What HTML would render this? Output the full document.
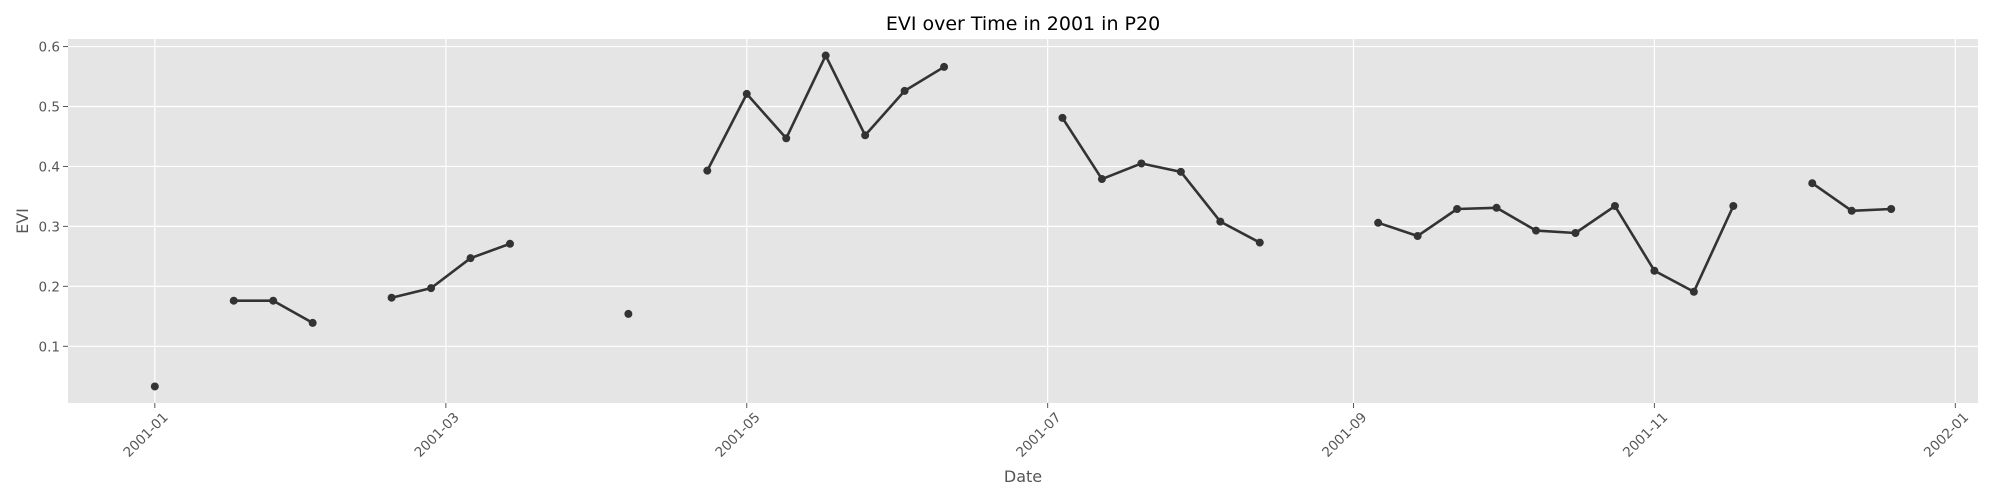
<!DOCTYPE html>
<html><head><meta charset="utf-8">
<style>
html,body{margin:0;padding:0;background:#fff;}
svg{display:block;font-family:"DejaVu Sans","Liberation Sans",sans-serif;}
</style></head>
<body>
<svg id="chart" width="2000" height="500" viewBox="0 0 2000 500">
<text x="1023" y="30" text-anchor="middle" font-size="19" fill="#000">EVI over Time in 2001 in P20</text>
<rect x="68" y="39" width="1910" height="364" fill="#e5e5e5"/>
<g id="grid"></g>
<g id="axes"></g>
<g id="series"></g>
<text x="1023" y="482" text-anchor="middle" font-size="16" fill="#555">Date</text>
<text x="0" y="0" transform="translate(28,221) rotate(-90)" text-anchor="middle" font-size="16" fill="#555">EVI</text>
</svg>
<script>
const dates = ["2001-01-01","2001-01-09","2001-01-17","2001-01-25","2001-02-02","2001-02-10","2001-02-18","2001-02-26","2001-03-06","2001-03-14","2001-03-22","2001-03-30","2001-04-07","2001-04-15","2001-04-23","2001-05-01","2001-05-09","2001-05-17","2001-05-25","2001-06-02","2001-06-10","2001-06-18","2001-06-26","2001-07-04","2001-07-12","2001-07-20","2001-07-28","2001-08-05","2001-08-13","2001-08-21","2001-08-29","2001-09-06","2001-09-14","2001-09-22","2001-09-30","2001-10-08","2001-10-16","2001-10-24","2001-11-01","2001-11-09","2001-11-17","2001-11-25","2001-12-03","2001-12-11","2001-12-19"];
const eviValues = [0.033,null,0.176,0.176,0.139,null,0.181,0.197,0.247,0.271,null,null,0.154,null,0.393,0.521,0.447,0.585,0.452,0.526,0.566,null,null,0.481,0.379,0.405,0.391,0.308,0.273,null,null,0.306,0.284,0.329,0.331,0.293,0.289,0.334,0.226,0.191,0.334,null,0.372,0.326,0.329];
const xTickLabels = ["2001-01","2001-03","2001-05","2001-07","2001-09","2001-11","2002-01"];
const yTickLabels = ["0.1","0.2","0.3","0.4","0.5","0.6"];

const NS="http://www.w3.org/2000/svg";
const L=68,R=1978,T=39,B=403;
const day = s => (Date.UTC(+s.slice(0,4),+s.slice(5,7)-1,+(s.slice(8,10)||1)) - Date.UTC(2001,0,1))/86400000;
const dDays = dates.map(day);
const dMin=Math.min(...dDays), dMax=Math.max(...dDays), dPad=(dMax-dMin)*0.05;
const vv = eviValues.filter(v=>v!==null);
const vMin=Math.min(...vv), vMax=Math.max(...vv), vPad=(vMax-vMin)*0.05;
const xS = d => L + (d-(dMin-dPad))/((dMax+dPad)-(dMin-dPad))*(R-L);
const yS = v => B - (v-(vMin-vPad))/((vMax+vPad)-(vMin-vPad))*(B-T);
function mk(tag,attrs,parent){const e=document.createElementNS(NS,tag);for(const k in attrs)e.setAttribute(k,attrs[k]);parent.appendChild(e);return e;}
const grid=document.getElementById('grid'), axes=document.getElementById('axes'), ser=document.getElementById('series');

yTickLabels.forEach(t=>{
  const y=yS(+t);
  const g=mk('line',{x1:L,x2:R,y1:y,y2:y,stroke:'#fff','stroke-width':1.2},grid);
  
  
  const tk=mk('line',{x1:L-5,x2:L,y1:y,y2:y,stroke:'#555','stroke-width':1},axes);
  
  
  const tx=mk('text',{x:L-8,y:y+5,'text-anchor':'end','font-size':13.5,fill:'#555'},axes);
  tx.textContent=t;
  
  
});
xTickLabels.forEach(t=>{
  const x=xS(day(t+"-01"));
  const g=mk('line',{x1:x,x2:x,y1:T,y2:B,stroke:'#fff','stroke-width':1.2},grid);
  
  
  const tk=mk('line',{x1:x,x2:x,y1:B,y2:B+5,stroke:'#555','stroke-width':1},axes);
  
  
  const tx=mk('text',{x:0,y:0,'text-anchor':'end','font-size':13.5,fill:'#555',transform:`translate(${x+14},${B+15}) rotate(-45)`},axes);
  tx.textContent=t;
  
  
});

let seg=[];
const segs=[];
dates.forEach((d,i)=>{
  const v=eviValues[i];
  if(v===null){if(seg.length)segs.push(seg);seg=[];}
  else seg.push([xS(dDays[i]),yS(v)]);
});
if(seg.length)segs.push(seg);
segs.forEach(s=>{
  if(s.length>1){
    const p=mk('polyline',{points:s.map(q=>q.join(',')).join(' '),fill:'none',stroke:'#333','stroke-width':2.6,'stroke-linejoin':'round'},ser);
    
    
  }
});
dates.forEach((d,i)=>{
  const v=eviValues[i];
  if(v===null)return;
  const c=mk('circle',{cx:xS(dDays[i]),cy:yS(v),r:4,fill:'#333'},ser);
  
  
});
</script>
</body></html>
